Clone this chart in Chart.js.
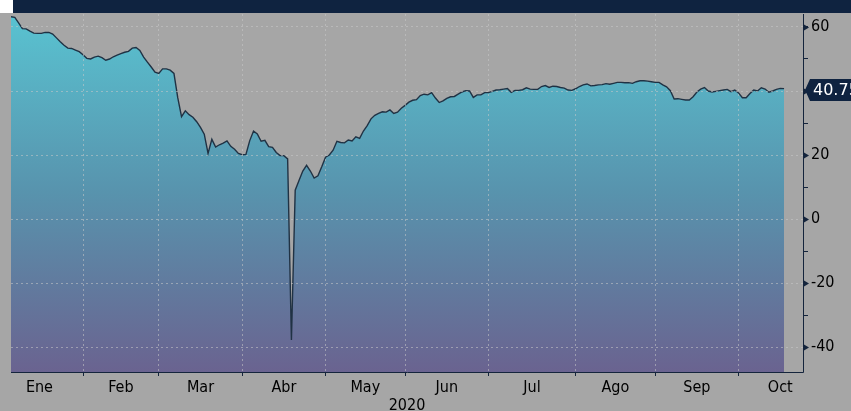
<!DOCTYPE html>
<html>
<head>
<meta charset="utf-8">
<script src="https://cdn.jsdelivr.net/npm/chart.js@4.4.1/dist/chart.umd.min.js"></script>
<style>
  html, body { margin: 0; padding: 0; background: #a6a6a6; }
  #wrap { width: 851px; height: 411px; position: relative; }
</style>
</head>
<body>
<div id="wrap"><canvas id="chart" width="851" height="411"></canvas></div>
<script>
// first business day shown, and month names on the axis
const startDate = "2020-01-07";
const monthNames = ["Ene", "Feb", "Mar", "Abr", "May", "Jun", "Jul", "Ago", "Sep", "Oct"];
const yearLabel = "2020";

// daily values, one per business day
const values = [
  63.2, 63.0, 61.3, 59.5, 59.4, 58.7, 58.1, 58.0, 58.0, 58.3,
  58.3, 57.8, 56.6, 55.4, 54.3, 53.4, 53.3, 52.8, 52.3, 51.3,
  50.2, 50.0, 50.6, 50.9, 50.4, 49.6, 50.0, 50.7, 51.2, 51.7,
  52.1, 52.4, 53.4, 53.6, 52.7, 50.6, 49.0, 47.5, 45.9, 45.5,
  46.9, 46.9, 46.5, 45.5, 37.9, 32.0, 33.8, 32.6, 31.8, 30.4,
  28.6, 26.5, 20.5, 24.9, 22.5, 23.2, 23.7, 24.4, 22.7, 21.8,
  20.5, 20.1, 20.2, 24.5, 27.5, 26.6, 24.3, 24.6, 22.6, 22.4,
  20.8, 19.8, 19.8, 18.8, -37.8, 9.0, 12.0, 15.0, 16.8, 15.0,
  12.8, 13.5, 16.3, 19.3, 20.0, 21.5, 24.3, 23.9, 23.8, 24.7,
  24.4, 25.7, 25.2, 27.5, 29.2, 31.3, 32.4, 33.0, 33.5, 33.4,
  34.1, 33.0, 33.4, 34.6, 35.5, 36.5, 37.1, 37.3, 38.6, 39.0,
  38.8, 39.5, 37.8, 36.4, 36.9, 37.7, 38.2, 38.3, 39.0, 39.7,
  40.1, 40.0, 38.0, 38.8, 38.8, 39.5, 39.5, 39.9, 40.3, 40.4,
  40.6, 40.8, 39.6, 40.2, 40.2, 40.4, 41.0, 40.6, 40.5, 40.5,
  41.4, 41.7, 41.1, 41.5, 41.4, 41.1, 40.9, 40.3, 40.2, 40.7,
  41.4, 41.9, 42.2, 41.6, 41.7, 41.9, 42.0, 42.3, 42.1, 42.4,
  42.7, 42.7, 42.6, 42.6, 42.4, 42.9, 43.2, 43.2, 43.1, 42.9,
  42.7, 42.7, 41.9, 41.3, 40.1, 37.5, 37.6, 37.4, 37.2, 37.2,
  38.2, 39.7, 40.6, 41.1, 40.0, 39.7, 39.9, 40.1, 40.3, 40.5,
  39.8, 40.3, 39.4, 37.9, 37.9, 39.2, 40.3, 40.0, 41.0, 40.6,
  39.6, 40.0, 40.5, 40.8, 40.75
];

const yMin = -47.8;
const yMax = 64.06;

// business days from Jan 1 to end of Nov, indexed so that startDate = 0
function businessDays(from, to) {
  const out = [];
  const d = new Date(from + "T00:00:00Z");
  const end = new Date(to + "T00:00:00Z");
  while (d <= end) {
    const wd = d.getUTCDay();
    if (wd !== 0 && wd !== 6) out.push(new Date(d));
    d.setUTCDate(d.getUTCDate() + 1);
  }
  return out;
}
const allDays = businessDays("2020-01-01", "2020-11-30");
const offset = allDays.findIndex(d => d.toISOString().slice(0, 10) === startDate);
const xMax = values.length - 1 + 5;

// month starts (index of first business day) relative to data
const monthStart = [];
allDays.forEach((d, i) => {
  if (i === 0 || d.getUTCMonth() !== allDays[i - 1].getUTCMonth()) {
    monthStart.push({ m: d.getUTCMonth(), x: i - offset });
  }
});
const boundaries = monthStart.filter(s => s.x > 0 && s.x < xMax).map(s => s.x);
const labelAt = new Map();
monthNames.forEach((name, m) => {
  labelAt.set((monthStart[m].x + monthStart[m + 1].x) / 2, name);
});

const points = values.map((v, i) => ({ x: i, y: v }));

const fontFamily = "'DejaVu Sans Condensed', 'Liberation Sans Narrow', 'DejaVu Sans', sans-serif";
const gridColor = "rgba(200,200,200,0.55)";
const axisColor = "#14243c";

const backdrop = {
  id: "backdrop",
  beforeDraw(chart) {
    const ctx = chart.ctx;
    ctx.save();
    ctx.fillStyle = "#a6a6a6";
    ctx.fillRect(0, 0, chart.width, chart.height);
    ctx.fillStyle = "#ffffff";
    ctx.fillRect(0, 0, 13, 13);
    ctx.fillStyle = "#0f2340";
    ctx.fillRect(13, 0, chart.width - 13, 13);
    ctx.restore();
  }
};

// axis lines, arrow markers on labelled ticks, and the last-value tag
const frame = {
  id: "frame",
  afterDraw(chart) {
    const ctx = chart.ctx;
    const a = chart.chartArea;
    const ys = chart.scales.y;
    ctx.save();
    ctx.strokeStyle = axisColor;
    ctx.lineWidth = 1;
    ctx.beginPath();
    ctx.moveTo(a.left, a.bottom + 0.5);
    ctx.lineTo(a.right + 0.5, a.bottom + 0.5);
    ctx.lineTo(a.right + 0.5, a.top);
    ctx.stroke();

    ctx.fillStyle = axisColor;
    ys.ticks.forEach(t => {
      if (t.value % 20 !== 0) return;
      const y = Math.round(ys.getPixelForValue(t.value)) + 0.5;
      ctx.beginPath();
      ctx.moveTo(a.right + 1, y - 3);
      ctx.lineTo(a.right + 6, y);
      ctx.lineTo(a.right + 1, y + 3);
      ctx.closePath();
      ctx.fill();
    });

    const v = values[values.length - 1];
    const y = Math.round(ys.getPixelForValue(v)) + 1;
    const x = a.right + 2;
    ctx.fillStyle = "#0f2340";
    ctx.beginPath();
    ctx.moveTo(x, y);
    ctx.lineTo(x + 5, y - 11);
    ctx.lineTo(chart.width, y - 11);
    ctx.lineTo(chart.width, y + 11);
    ctx.lineTo(x + 5, y + 11);
    ctx.closePath();
    ctx.fill();
    ctx.fillStyle = "#ffffff";
    ctx.font = "16px 'DejaVu Sans', sans-serif";
    ctx.textBaseline = "middle";
    ctx.fillText(v.toFixed(2), x + 8, y + 1);
    ctx.restore();
  }
};

new Chart(document.getElementById("chart"), {
  type: "line",
  data: {
    datasets: [{
      data: points,
      borderColor: "#203244",
      borderWidth: 1.4,
      pointRadius: 0,
      tension: 0,
      fill: "start",
      backgroundColor(context) {
        const area = context.chart.chartArea;
        if (!area) return "#5893ad";
        const g = context.chart.ctx.createLinearGradient(0, area.top, 0, area.bottom);
        g.addColorStop(0, "#59c3d1");
        g.addColorStop(0.5, "#5893ad");
        g.addColorStop(1, "#6a6390");
        return g;
      }
    }]
  },
  options: {
    responsive: false,
    animation: false,
    layout: { padding: { top: 14, left: 11, right: 0, bottom: 0 } },
    plugins: { legend: { display: false }, tooltip: { enabled: false } },
    scales: {
      x: {
        type: "linear",
        min: 0,
        max: xMax,
        afterBuildTicks(scale) {
          const vals = boundaries.concat([...labelAt.keys()]).sort((a, b) => a - b);
          scale.ticks = vals.map(v => ({ value: v }));
        },
        afterFit(scale) { scale.height = 39; },
        ticks: {
          autoSkip: false,
          maxRotation: 0,
          padding: 2,
          color: "#000000",
          font: { family: fontFamily, size: 16 },
          callback: v => labelAt.get(v) || ""
        },
        grid: {
          z: 1,
          tickLength: 4,
          color: ctx => (ctx.tick && boundaries.includes(ctx.tick.value)) ? gridColor : "transparent",
          tickColor: ctx => (ctx.tick && boundaries.includes(ctx.tick.value)) ? axisColor : "transparent"
        },
        border: { display: false, dash: [2, 3] },
        title: {
          display: true,
          text: yearLabel,
          color: "#000000",
          font: { family: fontFamily, size: 16 },
          padding: { top: 0, bottom: -4 }
        }
      },
      y: {
        position: "right",
        min: yMin,
        max: yMax,
        afterFit(scale) { scale.width = 48; },
        ticks: {
          stepSize: 10,
          includeBounds: false,
          padding: 3,
          color: "#000000",
          font: { family: fontFamily, size: 16 },
          callback: v => (v % 20 === 0 ? String(v) : "")
        },
        grid: {
          z: 1,
          tickLength: 5,
          color: ctx => (ctx.tick && ctx.tick.value % 20 === 0) ? gridColor : "transparent",
          tickColor: axisColor
        },
        border: { display: false, dash: [2, 3] }
      }
    }
  },
  plugins: [backdrop, frame]
});
</script>
</body>
</html>
